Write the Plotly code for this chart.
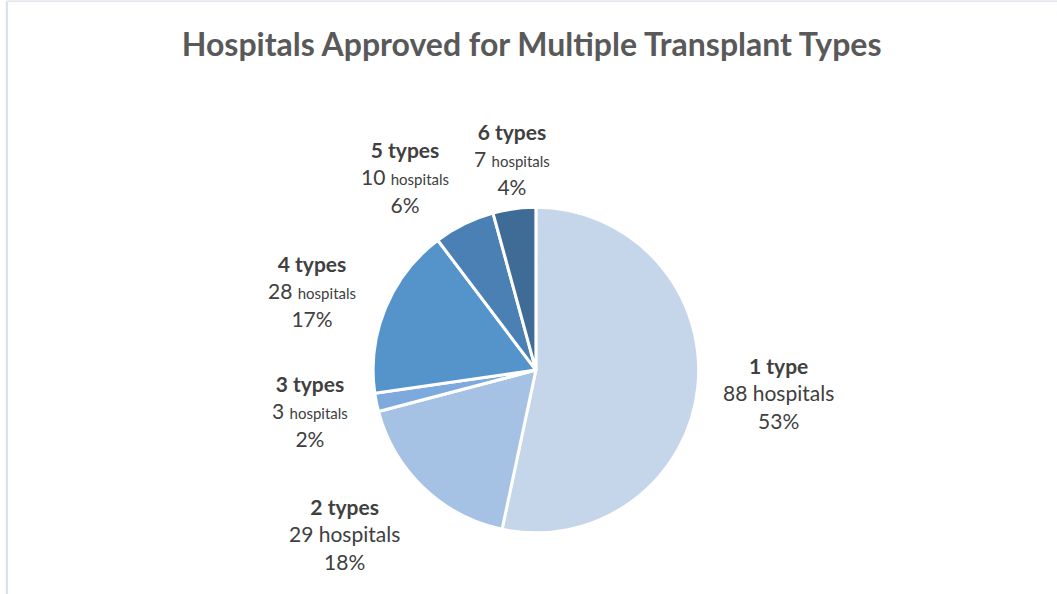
import math
import plotly.graph_objects as go

# Hospitals grouped by how many transplant types they are approved for
categories = ["1 type", "2 types", "3 types", "4 types", "5 types", "6 types"]
hospitals = [88, 29, 3, 28, 10, 7]
percent_labels = ["53%", "18%", "2%", "17%", "6%", "4%"]
colors = ["#C5D5EA", "#A5C1E4", "#7EA9DC", "#5594CB", "#4A80B4", "#3F6C96"]
# the smaller "hospitals" word used on the crowded left-hand labels
small_word = [False, False, True, True, True, True]

# page and pie geometry (pixels)
W, H = 1057, 594
DOM_X = [0.353, 0.661]
DOM_Y = [0.103, 0.651]
FONT = 21
SMALL = 15
LINE_H = 27
GAP = 18
# small hand nudges (px) so crowded labels sit apart, as in a spreadsheet layout
nudge = [(-2, 0), (-21, 4), (-4, -3), (-9, 5), (-28, 5), (6, 8)]

cx = (DOM_X[0] + DOM_X[1]) / 2 * W
cy = (1 - (DOM_Y[0] + DOM_Y[1]) / 2) * H
radius = min((DOM_X[1] - DOM_X[0]) * W, (DOM_Y[1] - DOM_Y[0]) * H) / 2

fig = go.Figure(
    go.Pie(
        labels=categories,
        values=hospitals,
        textinfo="none",
        marker=dict(colors=colors, line=dict(color="white", width=3)),
        sort=False,
        direction="clockwise",
        rotation=0,
        showlegend=False,
        hoverinfo="label+value+percent",
        domain=dict(x=DOM_X, y=DOM_Y),
    )
)

# labels outside each slice, placed along the slice's middle angle
total = sum(hospitals)
cum = 0
annotations = []
for cat, n, pct, small, (nx, ny) in zip(categories, hospitals, percent_labels, small_word, nudge):
    mid = (cum + n / 2) / total
    cum += n
    theta = 2 * math.pi * mid  # clockwise from 12 o'clock
    sx, sy = math.sin(theta), -math.cos(theta)  # screen direction (y down)
    num = f"{n} "
    if small:
        word = f"<span style='font-size:{SMALL}px'>hospitals</span>"
        width = 0.52 * FONT * len(num) + 0.52 * SMALL * len("hospitals")
    else:
        word = "hospitals"
        width = 0.52 * FONT * len(num + "hospitals")
    height = 3 * LINE_H
    px = cx + (radius + GAP) * sx + sx * width / 2 + nx
    py = cy + (radius + GAP) * sy + sy * height / 2 + ny
    annotations.append(
        dict(
            x=px / W,
            y=1 - py / H,
            xref="paper",
            yref="paper",
            xanchor="center",
            yanchor="middle",
            showarrow=False,
            align="center",
            text=f"<b>{cat}</b><br>{num}{word}<br>{pct}",
            font=dict(family="Lato", size=FONT, color="#404040"),
        )
    )

fig.update_layout(
    width=W,
    height=H,
    margin=dict(l=0, r=0, t=0, b=0),
    paper_bgcolor="white",
    plot_bgcolor="white",
    title=dict(
        text="<b>Hospitals Approved for Multiple Transplant Types</b>",
        x=0.503,
        xanchor="center",
        y=0.925,
        yanchor="middle",
        font=dict(family="Lato", size=32, color="#595959"),
    ),
    annotations=annotations,
    shapes=[
        dict(type="line", xref="paper", yref="paper", x0=0.0065, x1=0.0065, y0=0, y1=0.998,
             line=dict(color="#D3DFEC", width=2)),
        dict(type="line", xref="paper", yref="paper", x0=0.0065, x1=1, y0=0.998, y1=0.998,
             line=dict(color="#E6E9ED", width=2)),
    ],
)

fig.write_html("out.html")
